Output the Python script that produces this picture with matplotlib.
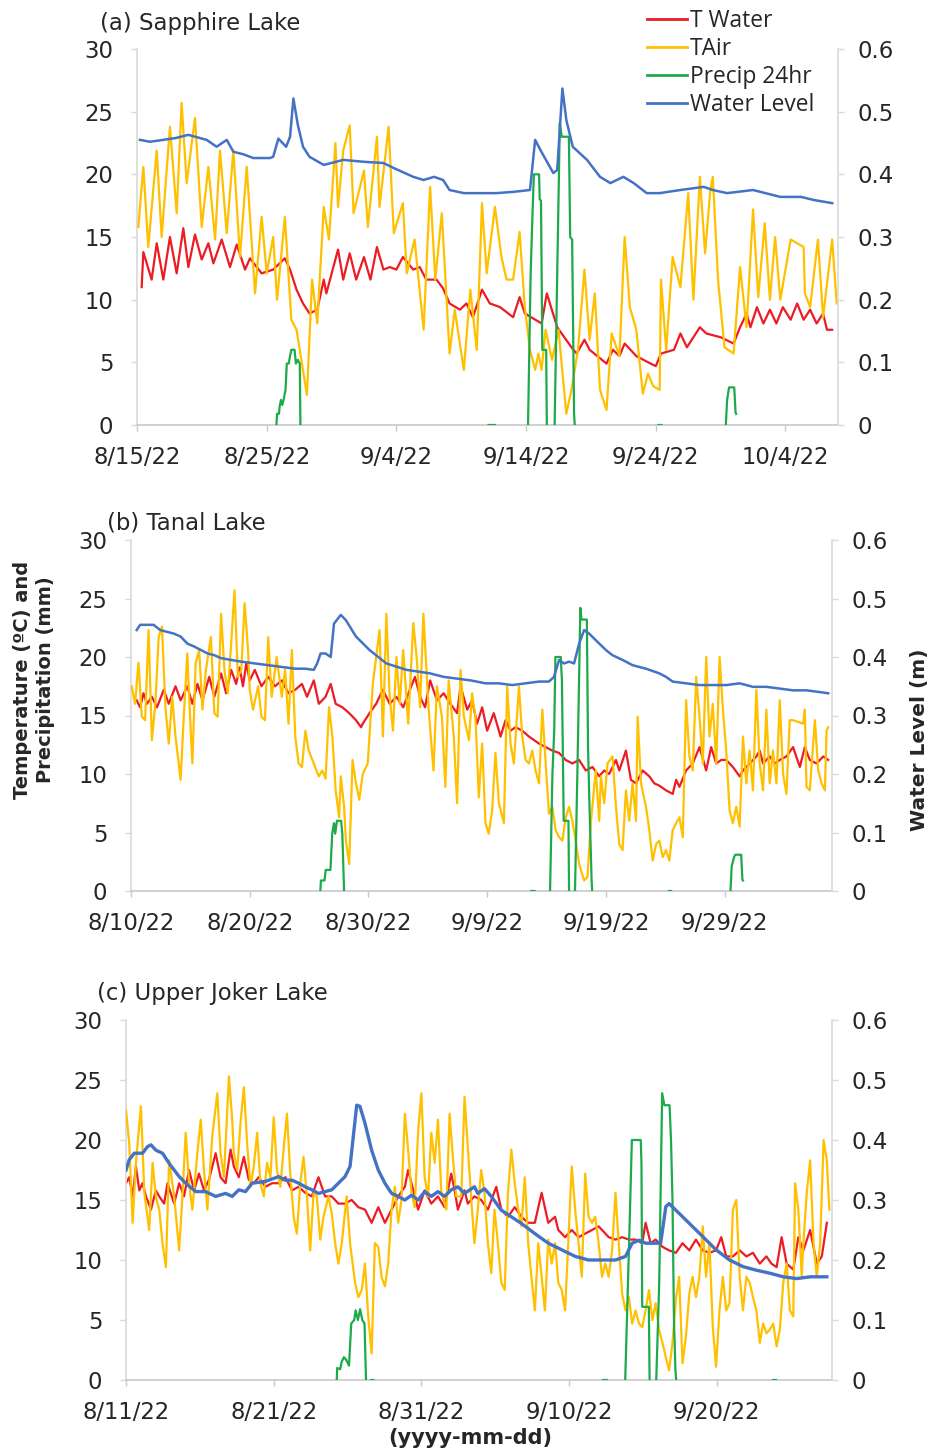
import numpy as np
import matplotlib
matplotlib.use("Agg")
import matplotlib.pyplot as plt
import matplotlib.dates as mdates
from matplotlib.font_manager import FontProperties
from datetime import datetime

nan = np.nan

LEGEND_LABELS = ["T Water", "TAir", "Precip 24hr", "Water Level"]
COL_WATER, COL_AIR, COL_PRECIP, COL_LEVEL = "#EC1C24", "#FFC000", "#1DAA4B", "#4472C4"
LEFT_YTICKS = [0, 5, 10, 15, 20, 25, 30]
RIGHT_YTICKS = [0, 0.1, 0.2, 0.3, 0.4, 0.5, 0.6]
RIGHT_YLABELS = ["0", "0.1", "0.2", "0.3", "0.4", "0.5", "0.6"]
YLABEL_LEFT = "Temperature (ºC) and\nPrecipitation (mm)"
YLABEL_RIGHT = "Water Level (m)"
XLABEL = "(yyyy-mm-dd)"

# ---------------- (a) Sapphire Lake  (day offset from start, value) ----------------
A_TITLE = "(a) Sapphire Lake"
A_START = "2022-08-15"
A_SPAN = 54.05
A_XTICKS = ["8/15/22", "8/25/22", "9/4/22", "9/14/22", "9/24/22", "10/4/22"]
A_TAIR = [(0.10, 15.8), (0.49, 20.6), (0.87, 14.2), (1.52, 21.9), (1.90, 15.0), (2.54, 23.8),
          (3.06, 16.9), (3.44, 25.7), (3.83, 19.3), (4.47, 24.5), (4.99, 15.8), (5.50, 20.6),
          (6.02, 14.8), (6.40, 21.9), (6.92, 15.3), (7.43, 21.9), (7.94, 13.4), (8.46, 20.6),
          (9.10, 10.5), (9.61, 16.6), (10.0, 12.1), (10.5, 15.0), (10.8, 10.0), (11.4, 16.6),
          (11.9, 8.4), (12.3, 7.6), (13.1, 2.4), (13.5, 11.6), (13.9, 8.1), (14.4, 17.4),
          (14.8, 14.8), (15.3, 22.5), (15.5, 17.4), (15.9, 21.9), (16.4, 23.9), (16.7, 16.9),
          (17.5, 20.3), (17.8, 15.8), (18.5, 23.0), (18.7, 17.4), (19.4, 23.8), (19.8, 15.3),
          (20.5, 17.7), (20.8, 12.1), (21.4, 14.8), (22.1, 7.6), (22.6, 19.0), (23.0, 11.6),
          (23.5, 16.9), (24.1, 5.7), (24.5, 9.2), (25.2, 4.4), (25.7, 10.8), (26.2, 6.0),
          (26.6, 17.7), (26.96, 12.1), (27.6, 17.4), (28.1, 13.4), (28.5, 11.6), (29.0, 11.6),
          (29.5, 15.4), (29.9, 9.4), (30.3, 6.0), (30.7, 4.4), (30.95, 5.7), (31.2, 4.4),
          (31.5, 7.6), (32.0, 5.2), (32.5, 7.6), (33.1, 0.9), (33.5, 2.8), (34.0, 6.0),
          (34.5, 12.4), (34.9, 6.8), (35.3, 10.5), (35.7, 2.8), (36.2, 1.2), (36.6, 7.3),
          (37.2, 5.5), (37.6, 15.0), (38.0, 9.4), (38.5, 7.6), (39.0, 2.5), (39.4, 4.1),
          (39.8, 3.1), (40.3, 2.8), (40.4, 11.6), (40.8, 6.0), (41.3, 13.4), (41.9, 11.0),
          (42.5, 18.5), (42.9, 10.0), (43.4, 19.8), (43.8, 13.7), (44.2, 18.7), (44.4, 19.8),
          (44.8, 11.6), (45.3, 6.2), (46.0, 5.7), (46.5, 12.6), (47.0, 7.8), (47.5, 17.2),
          (47.9, 10.2), (48.4, 16.1), (48.8, 10.0), (49.2, 15.0), (49.6, 10.0), (50.4, 14.8),
          (51.4, 14.2), (51.5, 10.5), (51.9, 9.4), (52.5, 14.8), (52.9, 8.6), (53.6, 14.8),
          (53.95, 9.7)]
A_TWATER = [(0.36, 11.0), (0.49, 13.8), (1.13, 11.6), (1.52, 14.5), (2.03, 11.6), (2.54, 15.0),
            (3.06, 12.1), (3.57, 15.7), (3.96, 12.6), (4.47, 15.2), (4.99, 13.2), (5.50, 14.5),
            (5.89, 12.9), (6.53, 14.8), (7.17, 12.6), (7.69, 14.4), (8.33, 12.4), (8.71, 13.3),
            (9.61, 12.1), (10.5, 12.4), (11.4, 13.3), (11.8, 12.4), (12.3, 10.8), (12.8, 9.7),
            (13.3, 8.9), (13.9, 9.2), (14.4, 11.6), (14.6, 10.5), (15.5, 14.0), (15.9, 11.6),
            (16.4, 13.7), (16.9, 11.6), (17.5, 13.4), (18.0, 11.6), (18.5, 14.2), (19.0, 12.4),
            (19.5, 12.6), (20.0, 12.4), (20.5, 13.4), (21.3, 12.4), (21.8, 12.6), (22.3, 11.6),
            (23.1, 11.6), (23.6, 10.9), (24.1, 9.7), (24.9, 9.2), (25.4, 9.7), (25.9, 8.6),
            (26.6, 10.8), (27.2, 9.7), (28.0, 9.4), (29.0, 8.6), (29.5, 10.2), (29.9, 8.9),
            (31.2, 8.1), (31.6, 10.5), (32.4, 7.8), (33.5, 6.2), (33.9, 5.7), (34.5, 6.8),
            (34.9, 6.0), (36.2, 4.9), (36.7, 6.0), (37.2, 5.5), (37.6, 6.5), (38.5, 5.5),
            (39.6, 4.9), (40.0, 4.7), (40.4, 5.7), (41.4, 6.0), (41.9, 7.3), (42.4, 6.2),
            (43.4, 7.8), (43.9, 7.3), (45.0, 7.0), (46.0, 6.5), (46.5, 7.8), (47.0, 8.9),
            (47.3, 7.8), (47.8, 9.4), (48.3, 8.1), (48.8, 9.2), (49.3, 8.1), (49.8, 9.4),
            (50.4, 8.4), (50.9, 9.7), (51.4, 8.4), (51.9, 9.2), (52.4, 8.1), (52.9, 8.9),
            (53.2, 7.6), (53.6, 7.6)]
A_LEVEL = [(0.23, 0.455), (1.0, 0.452), (2.03, 0.455), (3.0, 0.458), (3.96, 0.463), (5.37, 0.455),
           (6.14, 0.444), (6.92, 0.455), (7.43, 0.436), (8.2, 0.432), (8.97, 0.426), (10.26, 0.426),
           (10.5, 0.428), (10.9, 0.457), (11.5, 0.444), (11.8, 0.460), (12.06, 0.521), (12.4, 0.479),
           (12.8, 0.444), (13.3, 0.428), (14.4, 0.415), (15.9, 0.423), (17.5, 0.420), (19.0, 0.418),
           (19.8, 0.410), (21.3, 0.396), (22.1, 0.391), (22.9, 0.396), (23.6, 0.391), (24.1, 0.375),
           (25.2, 0.370), (26.5, 0.370), (27.7, 0.370), (29.0, 0.372), (30.3, 0.375), (30.7, 0.455),
           (31.1, 0.439), (32.1, 0.402), (32.4, 0.407), (32.8, 0.537), (33.1, 0.487), (33.6, 0.444),
           (34.7, 0.423), (35.7, 0.396), (36.5, 0.386), (37.5, 0.396), (38.3, 0.386), (39.3, 0.370),
           (40.3, 0.370), (41.9, 0.375), (43.7, 0.380), (44.4, 0.375), (45.5, 0.370), (47.5, 0.375),
           (49.6, 0.364), (51.2, 0.364), (52.2, 0.359), (53.6, 0.354)]
A_PRECIP = [(10.75, 0), (10.8, 0.9), (10.95, 0.9), (11.0, 1.5), (11.1, 2.0), (11.2, 1.6), (11.3, 2.0),
            (11.45, 2.8), (11.55, 4.9), (11.7, 4.9), (11.8, 5.5), (11.9, 6.0), (12.15, 6.0),
            (12.25, 4.9), (12.4, 5.2), (12.55, 4.9), (12.6, 0), (12.7, nan),
            (27.1, 0), (27.6, 0), (27.7, nan),
            (30.15, 0), (30.25, 6), (30.35, 12), (30.5, 17), (30.6, 20), (31.0, 20), (31.05, 18),
            (31.15, 17.9), (31.25, 6), (31.55, 6), (31.6, 0), (31.9, nan),
            (32.2, 0), (32.4, 12), (32.6, 24.1), (32.75, 23), (33.3, 23), (33.4, 15), (33.55, 14.8),
            (33.7, 0.9), (33.75, 0), (34.0, nan),
            (40.2, 0), (40.45, 0), (40.5, nan),
            (45.4, 0), (45.5, 2.0), (45.65, 3.0), (46.05, 3.0), (46.15, 1.0), (46.2, 0.9)]

# ---------------- (b) Tanal Lake ----------------
B_TITLE = "(b) Tanal Lake"
B_START = "2022-08-10"
B_SPAN = 59.05
B_XTICKS = ["8/10/22", "8/20/22", "8/30/22", "9/9/22", "9/19/22", "9/29/22"]
B_TAIR = [(0.06, 17.5), (0.34, 16.0), (0.63, 19.5), (0.91, 14.9), (1.19, 14.6), (1.48, 22.3),
          (1.76, 12.9), (2.05, 16.0), (2.33, 21.7), (2.61, 22.6), (2.90, 15.7), (3.18, 12.6),
          (3.47, 16.6), (3.75, 13.2), (4.18, 9.5), (4.46, 15.2), (4.74, 20.3), (5.03, 13.7),
          (5.17, 10.9), (5.45, 19.5), (5.74, 20.6), (6.02, 15.5), (6.31, 18.9), (6.73, 21.7),
          (7.02, 15.2), (7.30, 14.9), (7.59, 23.7), (7.87, 18.9), (8.15, 16.9), (8.44, 21.2),
          (8.72, 25.7), (9.00, 18.3), (9.29, 18.9), (9.57, 24.6), (9.86, 20.6), (10.0, 17.2),
          (10.28, 15.5), (10.71, 17.5), (10.99, 14.9), (11.28, 14.6), (11.56, 21.7), (11.85, 16.6),
          (12.27, 20.0), (12.56, 17.7), (12.70, 16.6), (12.98, 18.9), (13.27, 14.3), (13.55, 20.6),
          (13.84, 13.2), (14.12, 10.9), (14.40, 10.6), (14.69, 13.7), (14.97, 12.0), (15.40, 10.9),
          (15.82, 9.8), (16.11, 10.3), (16.39, 9.6), (16.68, 15.7), (16.96, 13.2), (17.24, 8.6),
          (17.53, 6.3), (17.67, 9.8), (17.95, 7.2), (18.10, 4.3), (18.38, 2.3), (18.66, 11.2),
          (18.95, 9.2), (19.23, 7.8), (19.52, 10.0), (19.94, 10.9), (20.37, 17.7), (20.65, 20.0),
          (20.94, 22.3), (21.22, 13.2), (21.51, 23.7), (21.79, 16.6), (22.07, 13.7), (22.36, 20.0),
          (22.64, 16.0), (22.93, 20.6), (23.35, 14.3), (23.78, 22.9), (24.06, 20.0), (24.35, 15.7),
          (24.63, 23.7), (25.06, 15.7), (25.48, 10.3), (25.77, 17.5), (26.19, 14.9), (26.48, 8.9),
          (26.76, 18.0), (27.19, 13.2), (27.47, 7.5), (27.76, 18.9), (28.04, 14.9), (28.47, 12.9),
          (28.73, 16.9), (29.01, 14.9), (29.30, 8.0), (29.58, 12.6), (29.86, 5.8), (30.14, 4.9),
          (30.42, 6.9), (30.70, 11.8), (30.99, 7.5), (31.41, 5.8), (31.69, 17.5), (31.97, 12.6),
          (32.25, 10.9), (32.68, 17.5), (32.96, 13.2), (33.24, 11.2), (33.52, 10.9), (33.80, 12.0),
          (34.08, 10.3), (34.37, 9.2), (34.65, 15.5), (34.93, 10.9), (35.21, 6.6), (35.49, 7.2),
          (35.77, 5.2), (36.06, 4.6), (36.34, 4.3), (36.62, 6.3), (36.90, 7.2), (37.18, 6.0),
          (37.46, 4.3), (37.75, 2.3), (38.17, 0.9), (38.45, 1.2), (38.73, 5.8), (39.15, 10.3),
          (39.44, 6.0), (39.58, 9.8), (39.86, 7.5), (40.14, 10.9), (40.56, 11.5), (40.85, 7.2),
          (41.13, 4.0), (41.41, 3.5), (41.69, 8.6), (41.97, 6.0), (42.25, 9.2), (42.54, 6.0),
          (42.68, 14.9), (42.96, 9.2), (43.38, 7.2), (43.66, 5.2), (43.94, 2.6), (44.23, 4.0),
          (44.51, 4.3), (44.79, 2.9), (45.07, 3.5), (45.35, 2.6), (45.63, 5.2), (45.92, 5.8),
          (46.20, 6.3), (46.48, 4.6), (46.76, 16.3), (47.04, 11.5), (47.32, 10.3), (47.61, 18.3),
          (47.89, 14.9), (48.17, 10.9), (48.45, 20.0), (48.73, 13.2), (49.01, 16.0), (49.30, 10.9),
          (49.58, 20.0), (49.86, 15.5), (50.14, 12.0), (50.42, 6.9), (50.70, 5.8), (50.99, 7.2),
          (51.27, 5.5), (51.55, 13.2), (51.83, 9.2), (52.11, 12.0), (52.39, 8.6), (52.68, 17.2),
          (52.96, 10.9), (53.24, 8.6), (53.52, 15.5), (53.80, 9.2), (54.08, 12.0), (54.37, 9.2),
          (54.65, 16.3), (54.93, 10.0), (55.21, 8.3), (55.49, 14.6), (55.77, 14.6), (56.62, 14.3),
          (56.76, 15.5), (56.90, 8.9), (57.18, 8.6), (57.61, 14.6), (57.89, 10.3), (58.17, 9.2),
          (58.45, 8.6), (58.59, 13.7), (58.73, 14.0)]
B_TWATER = [(0.48, 16.3), (0.77, 15.7), (1.05, 16.9), (1.34, 16.0), (1.76, 16.6), (2.19, 15.7),
            (2.76, 17.2), (3.18, 16.0), (3.75, 17.5), (4.18, 16.3), (4.74, 17.5), (5.17, 16.0),
            (5.60, 17.7), (6.02, 16.3), (6.59, 18.3), (7.02, 16.6), (7.59, 18.6), (8.01, 16.9),
            (8.44, 18.9), (8.86, 17.7), (9.15, 19.1), (9.43, 17.5), (9.72, 19.5), (10.0, 18.0),
            (10.43, 18.9), (10.99, 17.5), (11.56, 18.3), (12.13, 17.5), (12.70, 18.0), (13.27, 16.9),
            (13.84, 17.2), (14.40, 17.7), (14.83, 16.6), (15.40, 18.0), (15.82, 16.0), (16.39, 16.6),
            (16.82, 17.7), (17.24, 16.0), (17.81, 15.7), (18.38, 15.2), (18.95, 14.6), (19.38, 14.0),
            (19.52, 14.3), (20.09, 15.2), (20.65, 16.0), (21.22, 17.2), (21.79, 16.0), (22.36, 16.6),
            (22.93, 15.7), (23.49, 17.2), (23.92, 18.3), (24.35, 16.6), (24.77, 15.7), (25.20, 18.0),
            (25.77, 16.3), (26.34, 16.9), (26.90, 16.0), (27.47, 15.2), (27.76, 17.5), (28.32, 15.5),
            (28.73, 16.3), (29.15, 14.3), (29.58, 15.7), (30.0, 13.7), (30.56, 15.2), (31.13, 13.2),
            (31.55, 14.6), (31.97, 13.7), (32.39, 14.0), (32.96, 13.7), (33.52, 13.2), (34.37, 12.6),
            (34.93, 12.3), (35.49, 12.0), (36.06, 11.8), (36.62, 11.2), (37.18, 10.9), (37.75, 11.2),
            (38.31, 10.3), (38.87, 10.6), (39.44, 9.8), (39.86, 10.3), (40.28, 10.0), (40.85, 11.2),
            (41.13, 10.3), (41.69, 12.0), (42.11, 9.5), (42.54, 9.2), (43.10, 10.3), (43.66, 9.8),
            (44.08, 9.2), (44.51, 9.0), (45.07, 8.6), (45.63, 8.3), (45.92, 9.5), (46.20, 8.9),
            (46.76, 10.3), (47.32, 10.9), (47.89, 12.3), (48.45, 10.3), (48.87, 12.3), (49.30, 10.9),
            (49.72, 11.2), (50.14, 11.2), (50.70, 10.6), (51.27, 9.8), (51.55, 10.3), (52.11, 10.9),
            (52.68, 11.5), (52.96, 12.0), (53.24, 10.9), (53.80, 11.5), (54.22, 10.9), (54.65, 11.2),
            (55.21, 11.5), (55.77, 12.3), (56.34, 10.6), (56.76, 12.3), (57.18, 11.2), (57.75, 10.9),
            (58.31, 11.5), (58.73, 11.2)]
B_LEVEL = [(0.48, 0.446), (0.77, 0.455), (1.90, 0.455), (2.47, 0.446), (3.61, 0.440), (4.18, 0.435),
           (4.74, 0.423), (5.31, 0.418), (5.88, 0.412), (6.45, 0.406), (7.02, 0.403), (7.59, 0.398),
           (8.44, 0.395), (9.29, 0.392), (10.43, 0.389), (11.56, 0.386), (12.70, 0.383), (13.84, 0.380),
           (14.69, 0.380), (15.40, 0.378), (15.68, 0.389), (15.97, 0.406), (16.39, 0.406), (16.82, 0.400),
           (17.10, 0.457), (17.67, 0.472), (18.10, 0.463), (18.95, 0.435), (20.09, 0.412), (21.51, 0.389),
           (23.21, 0.378), (25.20, 0.372), (26.34, 0.366), (28.61, 0.360), (29.86, 0.355), (30.99, 0.355),
           (32.11, 0.352), (33.24, 0.355), (34.37, 0.358), (35.21, 0.358), (35.63, 0.366), (36.06, 0.395),
           (36.48, 0.389), (36.90, 0.392), (37.32, 0.389), (37.75, 0.423), (38.17, 0.446), (38.59, 0.440),
           (39.44, 0.423), (40.0, 0.412), (40.56, 0.403), (41.41, 0.395), (42.25, 0.386), (43.38, 0.380),
           (44.51, 0.372), (45.07, 0.366), (45.63, 0.358), (46.76, 0.355), (47.89, 0.352), (49.01, 0.352),
           (50.14, 0.352), (51.27, 0.355), (52.39, 0.349), (53.52, 0.349), (54.65, 0.346), (55.77, 0.343),
           (56.90, 0.343), (58.03, 0.340), (58.73, 0.338)]
B_PRECIP = [(15.95, 0), (16.0, 0.9), (16.3, 0.9), (16.4, 1.8), (16.8, 1.8), (16.95, 4.9), (17.1, 5.8),
            (17.2, 4.9), (17.35, 6.0), (17.7, 6.0), (17.8, 4.9), (17.95, 0), (18.0, nan),
            (33.7, 0), (34.0, 0), (34.1, nan),
            (35.3, 0), (35.5, 10), (35.65, 13.7), (35.75, 20), (36.2, 20), (36.3, 18), (36.45, 6.0),
            (36.85, 6.0), (36.9, 0), (37.0, nan),
            (37.4, 0), (37.6, 10), (37.85, 24.2), (37.95, 23.2), (38.4, 23.2), (38.5, 12.3), (38.6, 8),
            (38.8, 0.9), (38.85, 0), (38.9, nan),
            (45.3, 0), (45.5, 0), (45.6, nan),
            (50.5, 0), (50.6, 2.1), (50.8, 2.9), (50.9, 3.1), (51.4, 3.1), (51.5, 1.0), (51.55, 0.9)]

# ---------------- (c) Upper Joker Lake ----------------
C_TITLE = "(c) Upper Joker Lake"
C_START = "2022-08-11"
C_SPAN = 47.8
C_XTICKS = ["8/11/22", "8/21/22", "8/31/22", "9/10/22", "9/20/22"]
C_TAIR = [(0.0, 22.5), (0.22, 19.7), (0.45, 13.1), (0.67, 18.1), (1.01, 22.8), (1.24, 15.6),
          (1.57, 12.5), (1.80, 18.1), (2.02, 15.3), (2.25, 14.2), (2.47, 11.4), (2.70, 9.4),
          (2.92, 18.3), (3.26, 15.3), (3.60, 10.8), (3.82, 15.3), (4.04, 20.6), (4.27, 16.4),
          (4.49, 14.2), (4.83, 18.9), (5.06, 21.7), (5.28, 17.5), (5.51, 14.2), (5.84, 20.3),
          (6.18, 23.9), (6.40, 18.9), (6.63, 16.9), (6.97, 25.3), (7.19, 21.7), (7.30, 18.9),
          (7.53, 17.5), (7.75, 21.4), (7.98, 24.4), (8.20, 19.7), (8.43, 16.1), (8.65, 17.8),
          (8.88, 20.6), (9.10, 16.4), (9.33, 15.3), (9.55, 18.1), (9.78, 16.9), (10.0, 21.9),
          (10.22, 17.5), (10.45, 16.1), (10.67, 19.2), (10.90, 22.2), (11.12, 17.2), (11.35, 13.6),
          (11.57, 12.2), (11.80, 16.4), (12.02, 18.6), (12.25, 15.3), (12.47, 10.8), (12.70, 15.6),
          (12.92, 15.3), (13.15, 11.7), (13.37, 13.6), (13.71, 15.3), (13.93, 13.9), (14.16, 11.4),
          (14.38, 9.7), (14.61, 11.4), (14.94, 15.3), (15.17, 11.4), (15.51, 8.1), (15.73, 6.9),
          (15.96, 7.5), (16.18, 9.7), (16.40, 5.3), (16.63, 2.2), (16.85, 11.4), (17.08, 11.1),
          (17.30, 8.6), (17.53, 7.8), (17.75, 9.7), (17.98, 14.2), (18.20, 16.1), (18.43, 13.1),
          (18.65, 15.0), (18.88, 22.2), (19.10, 19.2), (19.33, 15.6), (19.55, 14.4), (19.78, 20.8),
          (20.0, 23.9), (20.22, 16.9), (20.45, 15.3), (20.67, 20.6), (20.90, 18.1), (21.12, 21.7),
          (21.35, 15.6), (21.69, 14.2), (21.91, 22.2), (22.13, 18.6), (22.36, 15.3), (22.70, 15.3),
          (22.92, 23.6), (23.36, 15.3), (23.59, 11.4), (23.82, 14.2), (24.05, 17.5), (24.27, 15.6),
          (24.50, 11.4), (24.73, 8.9), (24.95, 14.2), (25.18, 11.4), (25.41, 8.1), (25.64, 7.5),
          (25.86, 15.6), (26.09, 19.2), (26.32, 16.4), (26.55, 14.2), (26.77, 12.8), (27.0, 16.9),
          (27.23, 11.4), (27.45, 8.6), (27.68, 5.8), (27.91, 11.4), (28.14, 8.6), (28.36, 5.8),
          (28.59, 11.7), (28.82, 9.7), (29.05, 11.4), (29.27, 8.1), (29.50, 7.5), (29.73, 5.8),
          (29.95, 11.7), (30.18, 17.8), (30.41, 14.2), (30.64, 11.4), (30.86, 8.6), (31.09, 17.2),
          (31.32, 13.6), (31.55, 13.1), (31.77, 13.6), (32.0, 11.4), (32.23, 8.6), (32.45, 9.7),
          (32.68, 8.6), (32.91, 10.8), (33.14, 15.6), (33.36, 11.4), (33.59, 7.2), (33.82, 5.8),
          (34.05, 6.9), (34.27, 4.7), (34.50, 5.8), (34.73, 4.7), (34.95, 4.4), (35.18, 5.8),
          (35.41, 7.5), (35.64, 5.0), (35.86, 6.4), (36.09, 4.2), (36.32, 3.1), (36.55, 1.9),
          (36.77, 0.8), (37.0, 3.1), (37.23, 6.7), (37.45, 8.6), (37.68, 1.4), (37.91, 3.6),
          (38.14, 7.2), (38.36, 8.6), (38.59, 6.9), (38.82, 8.6), (39.05, 12.8), (39.27, 8.6),
          (39.50, 11.4), (39.73, 4.4), (39.95, 1.1), (40.18, 5.8), (40.41, 8.6), (40.64, 5.8),
          (40.86, 6.4), (41.09, 14.2), (41.32, 15.0), (41.55, 8.6), (41.77, 5.8), (42.0, 8.6),
          (42.23, 8.1), (42.45, 6.9), (42.68, 5.8), (42.91, 3.1), (43.14, 4.7), (43.36, 3.9),
          (43.59, 4.2), (43.82, 4.7), (44.05, 2.8), (44.27, 4.2), (44.50, 8.1), (44.73, 9.7),
          (44.95, 5.8), (45.18, 5.3), (45.30, 16.4), (45.52, 14.2), (45.75, 8.6), (45.86, 11.4),
          (46.09, 15.6), (46.32, 18.3), (46.55, 11.4), (46.77, 8.6), (47.0, 11.4), (47.23, 20.0),
          (47.45, 18.3), (47.62, 14.2)]
C_TWATER = [(0.0, 16.4), (0.22, 16.9), (0.45, 15.3), (0.67, 17.8), (0.90, 15.8), (1.12, 16.4),
            (1.35, 15.3), (1.69, 14.2), (2.02, 15.8), (2.25, 15.3), (2.58, 14.7), (2.81, 16.4),
            (3.26, 14.7), (3.60, 16.4), (3.93, 15.3), (4.27, 17.5), (4.61, 15.8), (4.94, 17.2),
            (5.28, 15.8), (5.62, 16.7), (6.07, 18.9), (6.40, 16.9), (6.74, 16.4), (7.08, 19.2),
            (7.30, 17.8), (7.64, 16.9), (7.98, 18.6), (8.31, 16.7), (8.65, 16.4), (8.99, 16.9),
            (9.44, 16.1), (9.89, 16.4), (10.34, 16.4), (10.79, 16.9), (11.24, 15.8), (11.69, 16.1),
            (12.13, 15.6), (12.58, 15.3), (13.03, 16.9), (13.48, 15.3), (13.93, 15.3), (14.38, 14.7),
            (14.83, 14.7), (15.28, 15.0), (15.73, 14.4), (16.18, 14.2), (16.63, 13.1), (17.08, 14.4),
            (17.53, 13.1), (17.98, 14.2), (18.43, 15.3), (18.88, 16.1), (19.10, 17.5), (19.33, 16.4),
            (19.78, 14.2), (20.22, 15.8), (20.67, 14.7), (21.12, 15.3), (21.57, 14.4), (22.02, 17.2),
            (22.25, 15.8), (22.47, 14.2), (22.92, 15.8), (23.14, 14.7), (23.59, 15.3), (24.05, 15.0),
            (24.50, 14.2), (25.07, 16.1), (25.41, 14.2), (25.86, 13.6), (26.32, 14.4), (26.77, 13.6),
            (27.23, 13.1), (27.68, 13.1), (28.14, 15.6), (28.59, 13.1), (29.05, 13.6), (29.27, 12.5),
            (29.73, 11.9), (30.18, 12.5), (30.64, 11.9), (31.09, 12.2), (31.55, 12.5), (32.0, 12.8),
            (32.23, 12.5), (32.68, 11.9), (33.14, 11.7), (33.59, 11.9), (34.05, 11.7), (34.50, 11.7),
            (34.95, 11.4), (35.18, 13.1), (35.52, 11.4), (35.86, 11.7), (36.32, 11.1), (36.77, 10.8),
            (37.23, 10.6), (37.68, 11.4), (38.14, 10.8), (38.59, 11.7), (39.05, 10.8), (39.50, 10.6),
            (39.95, 10.8), (40.30, 11.9), (40.64, 10.3), (41.09, 10.3), (41.55, 10.8), (42.0, 10.3),
            (42.45, 10.6), (42.91, 9.7), (43.36, 10.3), (43.70, 9.7), (44.05, 9.4), (44.39, 11.9),
            (44.73, 9.7), (45.18, 9.2), (45.52, 11.9), (45.86, 10.8), (46.32, 12.5), (46.77, 9.7),
            (47.11, 10.3), (47.45, 13.1)]
C_LEVEL = [(0.0, 0.350), (0.22, 0.367), (0.56, 0.378), (1.12, 0.378), (1.46, 0.389), (1.69, 0.392),
           (2.02, 0.383), (2.47, 0.378), (2.92, 0.361), (3.60, 0.339), (4.04, 0.328), (4.72, 0.314),
           (5.39, 0.314), (6.07, 0.306), (6.74, 0.311), (7.19, 0.306), (7.64, 0.317), (8.09, 0.314),
           (8.54, 0.328), (9.44, 0.331), (10.34, 0.339), (10.79, 0.333), (11.24, 0.333), (11.69, 0.328),
           (12.13, 0.322), (12.58, 0.317), (13.03, 0.311), (13.48, 0.314), (13.93, 0.317), (14.38, 0.328),
           (14.83, 0.339), (15.17, 0.356), (15.39, 0.406), (15.62, 0.458), (15.84, 0.456), (16.18, 0.428),
           (16.63, 0.383), (17.08, 0.350), (17.53, 0.328), (17.98, 0.311), (18.43, 0.306), (18.88, 0.300),
           (19.33, 0.308), (19.78, 0.300), (20.22, 0.314), (20.67, 0.306), (21.12, 0.314), (21.57, 0.306),
           (22.02, 0.317), (22.47, 0.322), (22.92, 0.311), (23.59, 0.322), (23.82, 0.311), (24.27, 0.319),
           (24.73, 0.306), (25.41, 0.283), (26.09, 0.272), (26.77, 0.261), (27.68, 0.244), (28.59, 0.228),
           (29.50, 0.217), (30.41, 0.206), (31.32, 0.200), (32.23, 0.200), (33.14, 0.200), (33.82, 0.206),
           (34.27, 0.228), (34.73, 0.233), (35.18, 0.228), (35.86, 0.228), (36.20, 0.228), (36.55, 0.289),
           (36.77, 0.294), (37.23, 0.283), (38.14, 0.261), (39.05, 0.239), (39.95, 0.217), (40.86, 0.200),
           (41.77, 0.189), (42.68, 0.183), (43.59, 0.178), (44.50, 0.172), (45.41, 0.169), (46.32, 0.172),
           (47.23, 0.172), (47.45, 0.172)]
C_PRECIP = [(14.27, 0), (14.3, 1.0), (14.5, 0.9), (14.6, 1.5), (14.75, 1.9), (14.9, 1.7), (15.1, 1.2),
            (15.25, 4.7), (15.45, 5.0), (15.55, 5.8), (15.7, 5.0), (15.85, 5.9), (16.0, 5.0),
            (16.15, 4.7), (16.25, 0), (16.3, nan),
            (16.6, 0), (16.75, 0), (16.8, nan),
            (32.3, 0), (32.55, 0), (32.6, nan),
            (33.8, 0), (34.1, 13.1), (34.25, 20), (34.85, 20), (34.9, 18.1), (34.95, 6.1), (35.4, 6.1),
            (35.45, 0), (35.5, nan),
            (35.9, 0), (36.1, 8), (36.3, 23.9), (36.45, 22.9), (36.8, 22.9), (36.9, 20), (37.0, 15),
            (37.1, 5), (37.2, 0.8), (37.25, 0), (37.3, nan),
            (43.8, 0), (44.0, 0)]

# ---------------- layout (pixels of a 933 x 1451 canvas) ----------------
W, H = 933, 1451
TEXT_C = "#262626"
TICK_FS = 16.4

fig = plt.figure(figsize=(W / 100, H / 100), dpi=100)
fig.patch.set_facecolor("white")


def fx(px):
    return px / W


def fy(py):
    return 1 - py / H


def unzip(pairs):
    d = np.array([p[0] for p in pairs], float)
    v = np.array([p[1] for p in pairs], float)
    return d, v


def panel(box, start, span, xticks, title, title_xy, tair, twater, level, precip, lvl_lw):
    l, r, t, b = box
    ax = fig.add_axes([fx(l), fy(b), fx(r) - fx(l), fy(t) - fy(b)])
    ax2 = ax.twinx()
    t0 = mdates.date2num(datetime.strptime(start, "%Y-%m-%d"))

    d, v = unzip(twater)
    h1, = ax.plot(t0 + d, v, color=COL_WATER, lw=1.6, zorder=2)
    d, v = unzip(tair)
    h2, = ax.plot(t0 + d, v, color=COL_AIR, lw=1.6, zorder=3)
    d, v = unzip(precip)
    h3, = ax.plot(t0 + d, v, color=COL_PRECIP, lw=1.6, zorder=4)
    d, v = unzip(level)
    h4, = ax2.plot(t0 + d, v, color=COL_LEVEL, lw=lvl_lw, zorder=5)

    ax.set_xlim(t0, t0 + span)
    ax.set_ylim(0, 30)
    ax2.set_ylim(0, 0.6)
    ax.set_yticks(LEFT_YTICKS)
    ax.set_yticklabels([str(v) for v in LEFT_YTICKS])
    ax2.set_yticks(RIGHT_YTICKS)
    ax2.set_yticklabels(RIGHT_YLABELS)
    tick_pos = [mdates.date2num(datetime.strptime(s, "%m/%d/%y")) for s in xticks]
    ax.set_xticks(tick_pos)
    ax.set_xticklabels(xticks)

    for a in (ax, ax2):
        a.spines["top"].set_visible(False)
        a.patch.set_visible(False)
    ax.spines["right"].set_visible(False)
    ax2.spines["left"].set_visible(False)
    ax2.spines["bottom"].set_visible(False)
    ax.spines["left"].set_color("#D9D9D9")
    ax.spines["left"].set_linewidth(1.2)
    ax2.spines["right"].set_color("#D9D9D9")
    ax2.spines["right"].set_linewidth(1.2)
    ax.spines["bottom"].set_color("#C8C8C8")
    ax.spines["bottom"].set_linewidth(1.2)

    ax.tick_params(axis="x", direction="out", length=4, width=1.0, color="#C8C8C8",
                   labelsize=TICK_FS, labelcolor=TEXT_C, pad=11)
    ax.tick_params(axis="y", direction="out", length=4, width=1.0, color="#D9D9D9",
                   labelsize=TICK_FS, labelcolor=TEXT_C, pad=13)
    ax2.tick_params(axis="y", direction="out", length=4, width=1.0, color="#D9D9D9",
                    labelsize=TICK_FS, labelcolor=TEXT_C, pad=10)

    fig.text(fx(title_xy[0]), fy(title_xy[1]), title, fontsize=16.4, color=TEXT_C,
             ha="left", va="baseline")
    return ax, ax2, [h1, h2, h3, h4]


axa, axa2, handles = panel((137, 838, 49, 425), A_START, A_SPAN, A_XTICKS, A_TITLE, (100, 30),
                           A_TAIR, A_TWATER, A_LEVEL, A_PRECIP, 1.8)
panel((131, 832, 540, 891), B_START, B_SPAN, B_XTICKS, B_TITLE, (107, 530),
      B_TAIR, B_TWATER, B_LEVEL, B_PRECIP, 1.8)
panel((126, 832, 1020, 1380), C_START, C_SPAN, C_XTICKS, C_TITLE, (97, 1000),
      C_TAIR, C_TWATER, C_LEVEL, C_PRECIP, 2.4)

leg = fig.legend(handles, LEGEND_LABELS, loc="upper left", bbox_to_anchor=(fx(647), fy(9)),
                 frameon=False, prop=FontProperties(family=["Open Sans", "DejaVu Sans"], size=16.4),
                 handlelength=1.75, handletextpad=0.12, labelspacing=0.18, borderpad=0,
                 borderaxespad=0)
for t in leg.get_texts():
    t.set_color(TEXT_C)
for ln in leg.get_lines():
    ln.set_linewidth(2.0)

fig.text(fx(34), fy(680), YLABEL_LEFT, rotation=90, ha="center", va="center",
         fontsize=14, fontweight="bold", color=TEXT_C, linespacing=1.25, multialignment="center")
fig.text(fx(920), fy(740), YLABEL_RIGHT, rotation=90, ha="center", va="center",
         fontsize=14.5, fontweight="bold", color=TEXT_C)
fig.text(fx(470), fy(1438), XLABEL, ha="center", va="center",
         fontsize=15, fontweight="bold", color=TEXT_C)

fig.savefig("out.png", dpi=100, facecolor="white")
